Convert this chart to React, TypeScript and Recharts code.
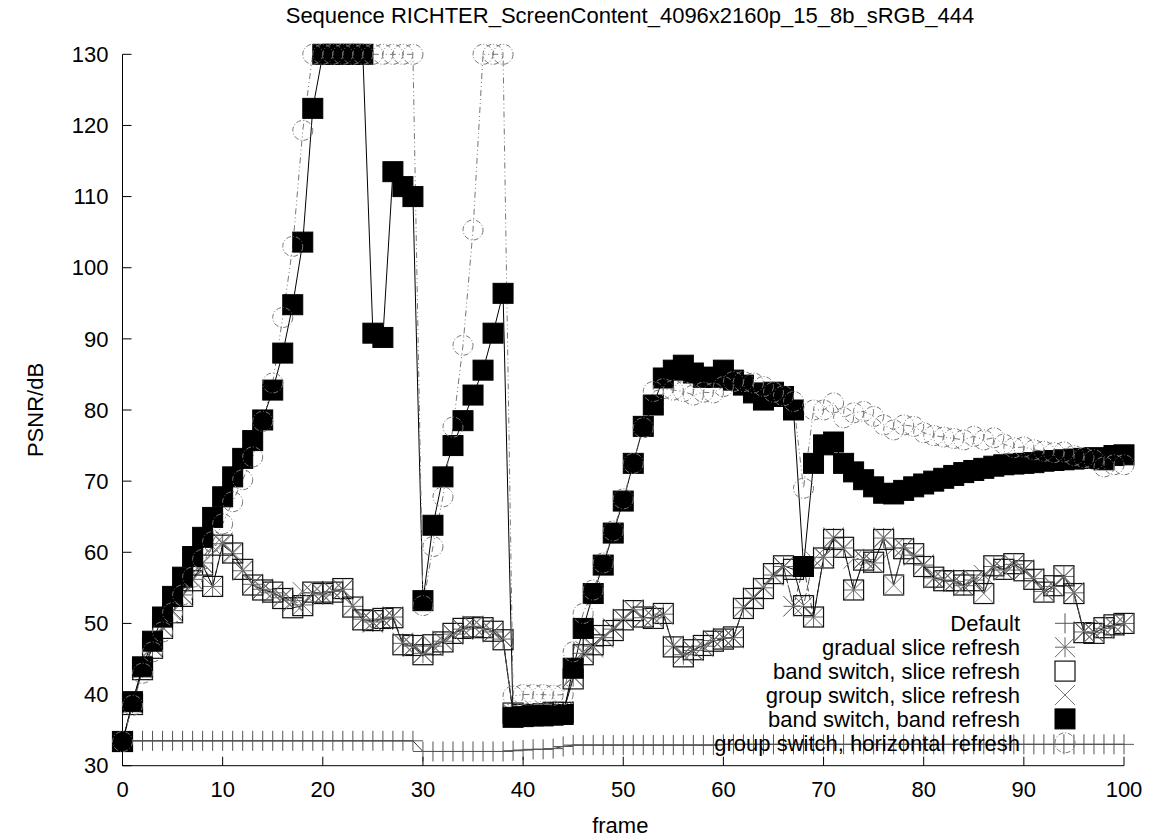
import React from "react";
import { ComposedChart, Line, XAxis, YAxis, Legend, Label } from "recharts";

const FONT = '"Liberation Sans", Arial, sans-serif';

const frames = Array.from({ length: 101 }, (_, i) => i);
const xTicks = [0, 10, 20, 30, 40, 50, 60, 70, 80, 90, 100];
const yTicks = [30, 40, 50, 60, 70, 80, 90, 100, 110, 120, 130];

// PSNR per frame (values at the top are clipped to 130)
const defaultPsnr = [
  33.5, 33.5, 33.5, 33.5, 33.5, 33.5, 33.5, 33.5, 33.5, 33.5,
  33.5, 33.5, 33.5, 33.5, 33.5, 33.5, 33.5, 33.5, 33.5, 33.5,
  33.5, 33.5, 33.5, 33.5, 33.5, 33.5, 33.5, 33.5, 33.5, 33.5,
  32.0, 32.0, 32.0, 32.0, 32.0, 32.0, 32.0, 32.0, 32.0, 32.1,
  32.2, 32.3, 32.3, 32.4, 32.7, 32.9, 32.9, 32.9, 32.9, 32.9,
  32.9, 32.9, 32.9, 32.9, 32.9, 32.9, 32.9, 32.9, 32.9, 32.9,
  33.0, 33.0, 33.0, 33.0, 33.0, 33.0, 33.0, 33.0, 33.0, 33.0,
  33.0, 33.0, 33.0, 33.0, 33.0, 33.0, 33.0, 33.0, 33.0, 33.0,
  33.0, 33.0, 33.0, 33.0, 33.0, 33.0, 33.0, 33.0, 33.0, 33.0,
  33.0, 33.0, 33.0, 33.0, 33.0, 33.0, 33.0, 33.0, 33.0, 33.0,
  33.0,
];

const gradualSlice = [
  33.4, 38.8, 43.8, 46.8, 49.5, 51.8, 54.0, 56.2, 58.5, 55.2,
  61.2, 59.8, 57.4, 55.5, 54.8, 54.3, 53.6, 53.2, 52.6, 54.3,
  54.0, 54.5, 54.8, 52.4, 50.6, 50.2, 50.6, 50.9, 47.2, 46.8,
  45.8, 46.8, 47.5, 48.5, 49.2, 49.6, 49.3, 48.8, 47.8, 37.2,
  37.0, 37.2, 37.3, 37.4, 37.6, 42.5, 45.8, 46.8, 48.0, 49.2,
  50.6, 51.9, 50.8, 50.8, 51.3, 46.8, 45.6, 46.2, 46.8, 47.6,
  47.9, 48.0, 52.2, 53.6, 55.0, 56.8, 58.0, 52.4, 58.0, 50.9,
  59.3, 62.0, 60.6, 54.7, 59.0, 58.5, 62.0, 60.6, 60.6, 59.6,
  58.2, 56.4, 56.1, 55.9, 55.3, 56.1, 56.8, 58.0, 57.5, 58.3,
  57.5, 56.3, 54.5, 55.2, 56.6, 54.3, 48.8, 48.7, 49.3, 49.7,
  50.0,
];

const bandSlice = [
  33.4, 38.6, 43.5, 46.5, 49.3, 51.5, 53.8, 56.0, 58.2, 55.2,
  61.0, 59.9, 57.6, 55.4, 54.7, 54.4, 53.5, 52.2, 52.5, 54.4,
  54.2, 54.4, 54.9, 52.3, 50.5, 50.4, 50.7, 50.8, 47.0, 46.9,
  45.6, 47.0, 47.4, 48.6, 49.3, 49.5, 49.4, 48.9, 47.7, 37.4,
  37.2, 37.1, 37.3, 37.5, 37.5, 42.2, 45.6, 47.0, 48.3, 49.0,
  50.5, 51.8, 50.9, 50.7, 51.4, 46.7, 45.3, 46.3, 46.9, 47.5,
  47.8, 48.1, 52.1, 53.5, 54.9, 57.0, 58.1, 57.6, 52.5, 50.9,
  59.2, 61.8, 60.7, 54.7, 58.9, 58.6, 61.8, 55.4, 60.5, 59.8,
  58.0, 56.5, 56.0, 56.0, 55.4, 56.0, 54.2, 58.1, 57.6, 58.4,
  57.4, 56.2, 54.4, 55.3, 56.7, 54.2, 48.7, 48.6, 49.4, 49.8,
  50.0,
];

const groupSlice = [
  33.4, 38.7, 43.6, 46.6, 49.4, 51.6, 53.9, 56.1, 58.4, 60.8,
  61.4, 60.0, 57.5, 55.6, 54.9, 54.2, 53.7, 53.0, 54.4, 54.2,
  54.1, 54.6, 54.7, 52.5, 50.7, 50.1, 50.5, 51.0, 47.3, 46.7,
  45.7, 46.9, 47.6, 48.4, 49.1, 49.7, 49.2, 48.7, 47.9, 37.3,
  37.1, 37.3, 37.2, 37.4, 37.7, 42.6, 46.0, 46.6, 48.1, 49.3,
  50.7, 52.0, 50.7, 50.9, 51.2, 46.9, 45.7, 46.1, 46.7, 47.7,
  48.0, 47.9, 52.3, 53.7, 55.1, 56.7, 57.9, 52.4, 52.5, 59.0,
  59.4, 62.1, 60.5, 59.1, 59.1, 58.4, 62.1, 55.4, 60.7, 59.5,
  58.3, 56.3, 56.2, 55.8, 55.2, 56.2, 54.2, 57.9, 57.4, 58.2,
  57.6, 56.4, 54.6, 55.1, 56.5, 54.4, 48.9, 48.8, 49.2, 49.6,
  50.0,
];

const bandRefresh = [
  33.4, 39.0, 43.9, 47.5, 50.9, 53.8, 56.5, 59.4, 62.1, 64.9,
  67.8, 70.6, 73.2, 75.7, 78.6, 82.8, 88.0, 94.8, 103.6, 122.4,
  130, 130, 130, 130, 130, 90.8, 90.2, 113.5, 111.4, 110.0,
  53.2, 63.8, 70.6, 75.0, 78.5, 82.1, 85.6, 90.8, 96.4, 36.8,
  36.9, 37.0, 37.0, 37.1, 37.2, 43.7, 49.3, 54.2, 58.2, 62.7,
  67.2, 72.5, 77.7, 80.7, 84.5, 85.6, 86.3, 85.2, 84.6, 84.6,
  85.6, 84.2, 83.5, 82.4, 81.4, 82.5, 81.9, 80.0, 58.0, 72.5,
  75.1, 75.5, 72.5, 71.3, 70.2, 69.2, 68.3, 68.2, 68.7, 69.2,
  69.6, 70.0, 70.4, 70.8, 71.2, 71.5, 71.8, 72.1, 72.3, 72.4,
  72.5, 72.6, 72.8, 72.9, 73.0, 73.1, 73.2, 73.3, 73.0, 73.6,
  73.7,
];

const horizontalRefresh = [
  33.4, 38.5, 43.0, 46.0, 48.8, 51.5, 54.0, 56.5, 59.0, 61.5,
  64.0, 67.1, 70.2, 73.4, 78.4, 83.8, 93.0, 103.0, 119.3, 130,
  130, 130, 130, 130, 130, 130, 130, 130, 130, 130,
  52.5, 60.8, 67.8, 77.6, 89.1, 105.3, 130, 130, 130, 39.8,
  40.0, 40.0, 40.0, 39.9, 40.0, 46.0, 51.4, 54.7, 58.5, 63.0,
  67.5, 72.5, 77.5, 82.6, 83.0, 82.8, 82.6, 82.1, 82.5, 82.4,
  83.3, 84.0, 84.0, 83.8, 83.3, 82.5, 82.0, 81.2, 69.0, 80.0,
  80.0, 81.0, 78.9, 79.6, 79.8, 79.1, 77.9, 77.2, 77.9, 77.7,
  76.8, 76.4, 76.2, 76.0, 75.8, 76.3, 75.8, 76.1, 75.2, 74.7,
  74.8, 74.4, 74.2, 74.0, 74.1, 73.6, 73.3, 73.0, 72.0, 72.3,
  72.3,
];

type MarkerKind = "plus" | "star" | "box" | "cross" | "boxFilled" | "circle";

interface SeriesDef {
  key: string;
  name: string;
  marker: MarkerKind;
  stroke: string;
  dash?: string;
}

const SERIES: SeriesDef[] = [
  { key: "def", name: "Default", marker: "plus", stroke: "#333" },
  { key: "gradual", name: "gradual slice refresh", marker: "star", stroke: "#444", dash: "6 3" },
  { key: "bandSlice", name: "band switch, slice refresh", marker: "box", stroke: "#111" },
  { key: "groupSlice", name: "group switch, slice refresh", marker: "cross", stroke: "#555", dash: "8 3 2 3" },
  { key: "bandBand", name: "band switch, band refresh", marker: "boxFilled", stroke: "#000" },
  { key: "horiz", name: "group switch, horizontal refresh", marker: "circle", stroke: "#777", dash: "6 3 1 3 1 3" },
];

const data = frames.map((f, i) => ({
  frame: f,
  def: defaultPsnr[i],
  gradual: gradualSlice[i],
  bandSlice: bandSlice[i],
  groupSlice: groupSlice[i],
  bandBand: bandRefresh[i],
  horiz: horizontalRefresh[i],
}));

const S = 10; // half marker size, px

function Marker({ kind, cx, cy }: { kind: MarkerKind; cx: number; cy: number }) {
  switch (kind) {
    case "plus":
      return (
        <g stroke="#555" strokeWidth={1}>
          <line x1={cx - S} y1={cy} x2={cx + S} y2={cy} />
          <line x1={cx} y1={cy - S} x2={cx} y2={cy + S} />
        </g>
      );
    case "star":
      return (
        <g stroke="#666" strokeWidth={1}>
          <line x1={cx - S} y1={cy} x2={cx + S} y2={cy} />
          <line x1={cx} y1={cy - S} x2={cx} y2={cy + S} />
          <line x1={cx - S} y1={cy - S} x2={cx + S} y2={cy + S} />
          <line x1={cx - S} y1={cy + S} x2={cx + S} y2={cy - S} />
        </g>
      );
    case "box":
      return <rect x={cx - S} y={cy - S} width={2 * S} height={2 * S} fill="none" stroke="#111" strokeWidth={1.2} />;
    case "cross":
      return (
        <g stroke="#777" strokeWidth={1}>
          <line x1={cx - S} y1={cy - S} x2={cx + S} y2={cy + S} />
          <line x1={cx - S} y1={cy + S} x2={cx + S} y2={cy - S} />
        </g>
      );
    case "boxFilled":
      return <rect x={cx - S} y={cy - S} width={2 * S} height={2 * S} fill="#000" stroke="#000" />;
    default:
      return <circle cx={cx} cy={cy} r={S} fill="none" stroke="#777" strokeWidth={1} strokeDasharray="5 2 1 2" />;
  }
}

const tickText = { fontSize: 22, fontFamily: FONT, fill: "#000" };

function BottomTick({ x, y, payload }: any) {
  return (
    <g>
      <line x1={x} y1={y} x2={x} y2={y - 9} stroke="#000" />
      <text x={x} y={y + 24} dy="0.35em" textAnchor="middle" {...tickText}>
        {payload.value}
      </text>
    </g>
  );
}

function TopTick({ x, y }: any) {
  return <line x1={x} y1={y} x2={x} y2={y + 9} stroke="#000" />;
}

function LeftTick({ x, y, payload }: any) {
  return (
    <g>
      <line x1={x} y1={y} x2={x + 9} y2={y} stroke="#000" />
      <text x={x - 14} y={y} dy="0.35em" textAnchor="end" {...tickText}>
        {payload.value}
      </text>
    </g>
  );
}

function RightTick({ x, y }: any) {
  return <line x1={x} y1={y} x2={x - 9} y2={y} stroke="#000" />;
}

const renderLegend = () => (
  <svg width={400} height={150} style={{ overflow: "visible" }}>
    {SERIES.map((s, i) => {
      const cy = 15.3 + i * 23.9;
      return (
        <g key={s.key}>
          <text x={312} y={cy} dy="0.35em" textAnchor="end" {...tickText}>
            {s.name}
          </text>
          <Marker kind={s.marker} cx={357} cy={cy} />
        </g>
      );
    })}
  </svg>
);

export default function App() {
  return (
    <div style={{ position: "relative", width: 1165, height: 831, fontFamily: FONT }}>
      <div
        style={{
          position: "absolute",
          top: -3,
          left: 122,
          width: 1000,
          textAlign: "center",
          fontSize: 22,
          lineHeight: "22px",
          color: "#000",
          zIndex: 2,
        }}
      >
        Sequence RICHTER_ScreenContent_4096x2160p_15_8b_sRGB_444
      </div>
      <ComposedChart width={1165} height={831} data={data} margin={{ top: 46.3, right: 49, bottom: 0, left: 0 }}>
        <XAxis
          dataKey="frame"
          type="number"
          domain={[0, 100]}
          ticks={xTicks}
          interval={0}
          height={73.3}
          tickSize={0}
          tickMargin={0}
          tickLine={false}
          axisLine={{ stroke: "#000" }}
          tick={<BottomTick />}
        >
          <Label
            content={(p: any) => {
              const vb = p.viewBox;
              return (
                <text x={vb.x + vb.width / 2 - 3} y={825} textAnchor="middle" {...tickText}>
                  frame
                </text>
              );
            }}
          />
        </XAxis>
        <XAxis
          xAxisId="top"
          orientation="top"
          dataKey="frame"
          type="number"
          domain={[0, 100]}
          ticks={xTicks}
          interval={0}
          height={0}
          tickSize={0}
          tickMargin={0}
          tickLine={false}
          axisLine={{ stroke: "#000" }}
          tick={<TopTick />}
        />
        <YAxis
          type="number"
          domain={[30, 130]}
          ticks={yTicks}
          interval={0}
          width={114.5}
          tickSize={0}
          tickMargin={0}
          tickLine={false}
          axisLine={{ stroke: "#000" }}
          tick={<LeftTick />}
        >
          <Label
            content={(p: any) => {
              const vb = p.viewBox;
              const cx = 27;
              const cy = vb.y + vb.height / 2;
              return (
                <text
                  x={cx}
                  y={cy}
                  dy="0.35em"
                  transform={`rotate(-90 ${cx} ${cy})`}
                  textAnchor="middle"
                  {...tickText}
                >
                  PSNR/dB
                </text>
              );
            }}
          />
        </YAxis>
        <YAxis
          yAxisId="right"
          orientation="right"
          type="number"
          domain={[30, 130]}
          ticks={yTicks}
          interval={0}
          width={0}
          tickSize={0}
          tickMargin={0}
          tickLine={false}
          axisLine={{ stroke: "#000" }}
          tick={<RightTick />}
        />
        <Legend
          layout="vertical"
          align="center"
          verticalAlign="middle"
          content={renderLegend}
          wrapperStyle={{ left: 700, top: 600, width: 400, height: 150 }}
        />
        {SERIES.map((s) => (
          <Line
            key={s.key}
            dataKey={s.key}
            name={s.name}
            type="linear"
            stroke={s.stroke}
            strokeWidth={1}
            strokeDasharray={s.dash}
            isAnimationActive={false}
            activeDot={false}
            dot={(p: any) => <Marker key={`${s.key}-${p.index}`} kind={s.marker} cx={p.cx} cy={p.cy} />}
          />
        ))}
      </ComposedChart>
    </div>
  );
}
